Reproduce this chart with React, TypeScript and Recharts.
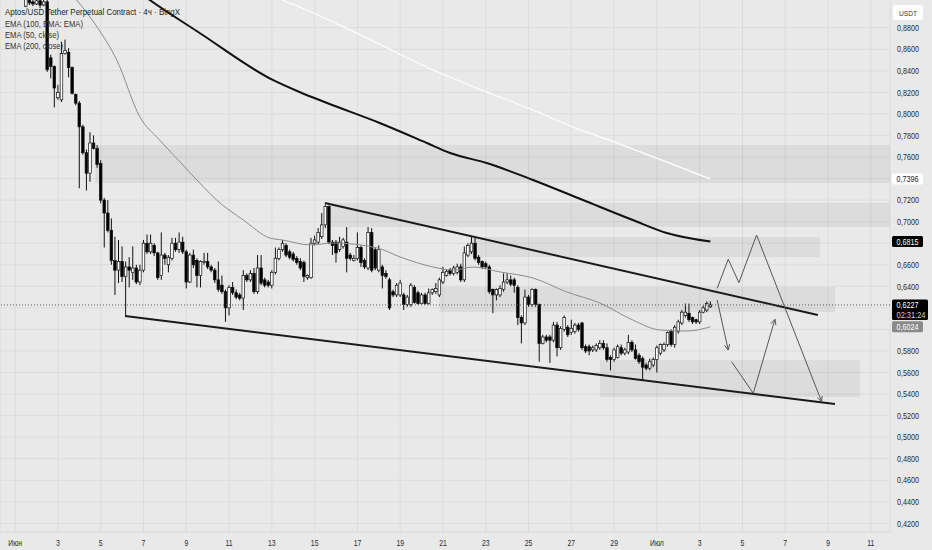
import React from "react";
import {
  Bar,
  CartesianGrid,
  ComposedChart,
  Line,
  ReferenceArea,
  ReferenceLine,
  XAxis,
  YAxis,
} from "recharts";

// 4h candles, hours counted from 1 June 00:00
const FIRST_HOUR = 12;
const CANDLE_HOURS = 4;

const opens = [
  0.900, 0.906, 0.904, 0.902, 0.905, 0.901, 0.904, 0.852, 0.844, 0.815,
  0.813, 0.856, 0.857, 0.843, 0.818, 0.810, 0.788, 0.764, 0.745, 0.773,
  0.768, 0.754, 0.720, 0.708, 0.692, 0.664, 0.655, 0.663, 0.649, 0.658,
  0.653, 0.657, 0.644, 0.655, 0.680, 0.672, 0.678, 0.671, 0.650, 0.669,
  0.660, 0.666, 0.680, 0.674, 0.681, 0.672, 0.644, 0.669, 0.664, 0.650,
  0.662, 0.663, 0.658, 0.655, 0.646, 0.641, 0.635, 0.620, 0.639, 0.634,
  0.632, 0.629, 0.650, 0.646, 0.652, 0.635, 0.657, 0.646, 0.644, 0.641,
  0.653, 0.666, 0.674, 0.678, 0.672, 0.670, 0.666, 0.663, 0.662, 0.648,
  0.648, 0.680, 0.681, 0.686, 0.697, 0.714, 0.681, 0.681, 0.674, 0.677,
  0.681, 0.669, 0.664, 0.666, 0.676, 0.664, 0.657, 0.690, 0.674, 0.655,
  0.658, 0.652, 0.646, 0.635, 0.632, 0.632, 0.632, 0.623, 0.623, 0.639,
  0.634, 0.624, 0.632, 0.624, 0.634, 0.635, 0.632, 0.644, 0.650, 0.655,
  0.652, 0.653, 0.658, 0.646, 0.669, 0.672, 0.680, 0.667, 0.663, 0.661,
  0.658, 0.637, 0.632, 0.632, 0.637, 0.644, 0.646, 0.646, 0.639, 0.611,
  0.606, 0.630, 0.623, 0.637, 0.623, 0.587, 0.593, 0.593, 0.590, 0.604,
  0.583, 0.600, 0.602, 0.597, 0.598, 0.604, 0.606, 0.584, 0.584, 0.581,
  0.581, 0.583, 0.587, 0.583, 0.574, 0.572, 0.574, 0.583, 0.578, 0.579,
  0.588, 0.581, 0.576, 0.573, 0.567, 0.564, 0.567, 0.572, 0.578, 0.581,
  0.586, 0.598, 0.586, 0.598, 0.606, 0.613, 0.615, 0.611, 0.609, 0.607,
  0.616, 0.618, 0.621,
];

const highs = [
  0.913, 0.910, 0.909, 0.909, 0.908, 0.908, 0.908, 0.855, 0.845, 0.827,
  0.867, 0.869, 0.861, 0.844, 0.819, 0.812, 0.790, 0.767, 0.783, 0.780,
  0.771, 0.757, 0.722, 0.720, 0.703, 0.686, 0.683, 0.677, 0.663, 0.667,
  0.677, 0.660, 0.660, 0.683, 0.688, 0.688, 0.680, 0.672, 0.690, 0.671,
  0.669, 0.685, 0.685, 0.690, 0.686, 0.674, 0.671, 0.674, 0.666, 0.664,
  0.671, 0.671, 0.660, 0.657, 0.663, 0.650, 0.637, 0.641, 0.644, 0.637,
  0.634, 0.655, 0.652, 0.655, 0.657, 0.669, 0.669, 0.648, 0.646, 0.655,
  0.676, 0.676, 0.683, 0.680, 0.674, 0.672, 0.668, 0.666, 0.664, 0.651,
  0.685, 0.687, 0.694, 0.708, 0.716, 0.715, 0.683, 0.683, 0.686, 0.685,
  0.695, 0.671, 0.669, 0.690, 0.678, 0.666, 0.695, 0.694, 0.676, 0.678,
  0.660, 0.655, 0.648, 0.637, 0.643, 0.646, 0.634, 0.632, 0.643, 0.641,
  0.636, 0.634, 0.634, 0.638, 0.638, 0.643, 0.648, 0.658, 0.656, 0.657,
  0.659, 0.661, 0.661, 0.677, 0.680, 0.686, 0.685, 0.669, 0.664, 0.663,
  0.660, 0.638, 0.638, 0.641, 0.652, 0.652, 0.650, 0.648, 0.641, 0.613,
  0.637, 0.632, 0.638, 0.638, 0.624, 0.595, 0.595, 0.595, 0.607, 0.607,
  0.603, 0.613, 0.604, 0.609, 0.606, 0.606, 0.607, 0.586, 0.586, 0.585,
  0.587, 0.590, 0.590, 0.587, 0.576, 0.583, 0.586, 0.586, 0.583, 0.595,
  0.590, 0.586, 0.578, 0.575, 0.569, 0.573, 0.574, 0.585, 0.587, 0.588,
  0.598, 0.600, 0.604, 0.609, 0.618, 0.624, 0.624, 0.612, 0.610, 0.618,
  0.622, 0.626, 0.626,
];

const lows = [
  0.899, 0.901, 0.900, 0.901, 0.898, 0.900, 0.839, 0.833, 0.806, 0.813,
  0.811, 0.855, 0.834, 0.818, 0.808, 0.731, 0.762, 0.729, 0.737, 0.767,
  0.750, 0.717, 0.676, 0.690, 0.660, 0.632, 0.643, 0.644, 0.612, 0.639,
  0.646, 0.642, 0.641, 0.653, 0.670, 0.670, 0.668, 0.646, 0.646, 0.660,
  0.653, 0.664, 0.672, 0.671, 0.670, 0.638, 0.643, 0.657, 0.639, 0.639,
  0.660, 0.656, 0.653, 0.643, 0.635, 0.633, 0.607, 0.613, 0.632, 0.628,
  0.627, 0.618, 0.644, 0.644, 0.633, 0.633, 0.641, 0.639, 0.639, 0.638,
  0.651, 0.664, 0.672, 0.667, 0.665, 0.663, 0.660, 0.655, 0.644, 0.646,
  0.647, 0.678, 0.679, 0.684, 0.694, 0.679, 0.669, 0.662, 0.672, 0.675,
  0.653, 0.664, 0.663, 0.664, 0.658, 0.656, 0.655, 0.653, 0.655, 0.653,
  0.638, 0.647, 0.618, 0.630, 0.630, 0.630, 0.618, 0.621, 0.621, 0.624,
  0.623, 0.623, 0.623, 0.623, 0.632, 0.633, 0.630, 0.642, 0.649, 0.650,
  0.650, 0.651, 0.644, 0.644, 0.667, 0.670, 0.664, 0.660, 0.656, 0.656,
  0.633, 0.615, 0.627, 0.630, 0.635, 0.642, 0.640, 0.634, 0.604, 0.587,
  0.604, 0.621, 0.621, 0.621, 0.570, 0.586, 0.588, 0.569, 0.588, 0.575,
  0.581, 0.598, 0.593, 0.595, 0.596, 0.598, 0.581, 0.578, 0.576, 0.579,
  0.579, 0.581, 0.581, 0.570, 0.562, 0.570, 0.573, 0.576, 0.576, 0.577,
  0.579, 0.572, 0.568, 0.553, 0.562, 0.562, 0.565, 0.560, 0.576, 0.579,
  0.584, 0.584, 0.583, 0.596, 0.604, 0.611, 0.607, 0.605, 0.605, 0.605,
  0.615, 0.616, 0.620,
];

const closes = [
  0.908, 0.903, 0.902, 0.905, 0.901, 0.904, 0.841, 0.844, 0.824, 0.820,
  0.856, 0.859, 0.843, 0.819, 0.810, 0.788, 0.764, 0.745, 0.773, 0.768,
  0.753, 0.720, 0.708, 0.692, 0.664, 0.655, 0.663, 0.649, 0.658, 0.655,
  0.657, 0.644, 0.655, 0.680, 0.672, 0.680, 0.671, 0.648, 0.669, 0.666,
  0.667, 0.680, 0.674, 0.681, 0.672, 0.644, 0.669, 0.660, 0.650, 0.663,
  0.663, 0.658, 0.655, 0.646, 0.637, 0.635, 0.620, 0.639, 0.634, 0.630,
  0.629, 0.650, 0.646, 0.652, 0.635, 0.657, 0.643, 0.641, 0.641, 0.653,
  0.666, 0.674, 0.680, 0.669, 0.667, 0.665, 0.662, 0.657, 0.649, 0.650,
  0.680, 0.683, 0.690, 0.697, 0.714, 0.681, 0.678, 0.671, 0.681, 0.683,
  0.666, 0.666, 0.666, 0.676, 0.662, 0.658, 0.690, 0.655, 0.657, 0.674,
  0.650, 0.649, 0.620, 0.632, 0.641, 0.643, 0.623, 0.630, 0.641, 0.625,
  0.624, 0.632, 0.624, 0.634, 0.637, 0.638, 0.646, 0.653, 0.654, 0.652,
  0.657, 0.658, 0.646, 0.671, 0.678, 0.680, 0.666, 0.662, 0.658, 0.658,
  0.635, 0.632, 0.637, 0.638, 0.644, 0.646, 0.642, 0.641, 0.611, 0.606,
  0.630, 0.623, 0.637, 0.623, 0.587, 0.593, 0.590, 0.590, 0.604, 0.583,
  0.601, 0.611, 0.595, 0.601, 0.604, 0.600, 0.583, 0.580, 0.580, 0.583,
  0.585, 0.587, 0.583, 0.572, 0.572, 0.581, 0.584, 0.578, 0.581, 0.588,
  0.581, 0.573, 0.570, 0.565, 0.564, 0.570, 0.572, 0.583, 0.586, 0.586,
  0.597, 0.586, 0.602, 0.607, 0.616, 0.616, 0.609, 0.607, 0.607, 0.616,
  0.620, 0.624, 0.6227,
];

// moving averages (first point sits just above the visible range)
const ema50Hours = [50, 69, 92, 114, 140, 162, 185, 207, 226, 256, 286, 300, 331, 357, 406, 432, 469, 491, 514, 544, 581, 619, 656, 693, 723, 754, 780];
const ema50Values = [0.924, 0.9057, 0.8806, 0.85, 0.7971, 0.7758, 0.7554, 0.7359, 0.7201, 0.7015, 0.6848, 0.683, 0.6784, 0.6802, 0.6756, 0.6672, 0.6579, 0.6551, 0.6579, 0.6533, 0.6477, 0.6347, 0.6245, 0.6087, 0.5995, 0.5985, 0.6024];
const ema100Hours = [129, 151, 207, 289, 319, 350, 409, 462, 488, 529, 581, 637, 693, 731, 780];
const ema100Values = [0.919, 0.9057, 0.8751, 0.8315, 0.8203, 0.8101, 0.7916, 0.773, 0.7637, 0.7544, 0.7387, 0.7201, 0.7015, 0.6895, 0.6815];
const ema200Hours = [275, 300, 319, 383, 469, 529, 581, 626, 675, 731, 780];
const ema200Values = [0.915, 0.9057, 0.8992, 0.8751, 0.8407, 0.8203, 0.8036, 0.7878, 0.773, 0.7554, 0.7396];

// drawn zones
const zoneFrom = [90, 350, 510, 476, 656];
const zoneTo = [981.5, 981.5, 903, 920, 948];
const zoneLow = [0.7359, 0.695, 0.6672, 0.6162, 0.5373];
const zoneHigh = [0.7711, 0.7173, 0.6858, 0.6394, 0.5716];

// channel lines
const upperHours = [347.5, 900.6];
const upperPrices = [0.7173, 0.6134];
const lowerHours = [123.3, 919.7];
const lowerPrices = [0.6125, 0.5308];

// projected paths
const pathAHours = [787.6, 800.0, 812.0, 831.8, 904.8];
const pathAPrices = [0.6381, 0.6651, 0.6434, 0.6876, 0.5329];
const pathBHours = [787.6, 800.0];
const pathBPrices = [0.6273, 0.5809];
const pathCHours = [803.8, 828.1, 852.4];
const pathCPrices = [0.57, 0.5407, 0.6094];

const xTickHours = [0, 48, 96, 144, 192, 240, 288, 336, 384, 432, 480, 528, 576, 624, 672, 720, 768, 816, 864, 912, 960];
const xTickLabels = ["Июн", "3", "5", "7", "9", "11", "13", "15", "17", "19", "21", "23", "25", "27", "29", "Июл", "3", "5", "7", "9", "11"];

const priceGrid = [0.42, 0.44, 0.46, 0.48, 0.5, 0.52, 0.54, 0.56, 0.58, 0.6, 0.62, 0.64, 0.66, 0.68, 0.7, 0.72, 0.74, 0.76, 0.78, 0.8, 0.82, 0.84, 0.86, 0.88];
const hiddenPriceLabels = [0.6, 0.62, 0.68, 0.74];

const markerValues = [0.7396, 0.6815, 0.6227, 0.6024];

const FONT = "'Liberation Sans', Arial, sans-serif";

const candles = closes.map((close, i) => ({
  hour: FIRST_HOUR + i * CANDLE_HOURS,
  open: opens[i],
  high: highs[i],
  low: lows[i],
  close,
  range: [lows[i], highs[i]],
}));

const toSeries = (hours: number[], values: number[]) =>
  hours.map((hour, i) => ({ hour, value: values[i] }));

const priceText = (v: number) => v.toFixed(4).replace(".", ",");

function Candle(props: any) {
  const { x, y, width, height } = props;
  const d = props.payload ?? props;
  const cx = x + width / 2;
  const span = d.high - d.low || 1e-9;
  const toY = (v: number) => y + ((d.high - v) / span) * height;
  const top = toY(Math.max(d.open, d.close));
  const bottom = toY(Math.min(d.open, d.close));
  const up = d.close >= d.open;
  return (
    <g>
      <line x1={cx} x2={cx} y1={y} y2={y + height} stroke="#111" strokeWidth={1} />
      <rect
        x={cx - 1.3}
        y={top}
        width={2.6}
        height={Math.max(bottom - top, 0.8)}
        fill={up ? "#ffffff" : "#000000"}
        stroke="#111"
        strokeWidth={0.7}
      />
    </g>
  );
}

function PriceTick(props: any) {
  const { x, y, payload } = props;
  return (
    <text x={x} y={y + 3.2} fontSize={9} fill="#2a2a2a" fontFamily={FONT} textLength={22} lengthAdjust="spacingAndGlyphs">
      {priceText(payload.value)}
    </text>
  );
}

function TimeTick(props: any) {
  const { x, y, payload } = props;
  const label = xTickLabels[xTickHours.indexOf(payload.value)] ?? "";
  return (
    <g transform={`translate(${x},${y + 6}) scale(0.72,1)`}>
      <text textAnchor="middle" fontSize={9.5} fill="#2a2a2a" fontFamily={FONT}>
        {label}
      </text>
    </g>
  );
}

function Badge(props: any) {
  const { viewBox, value, fill, color, sub } = props;
  const left = viewBox.x + viewBox.width + 2;
  const cy = viewBox.y;
  return (
    <g>
      <rect x={left} y={cy - 5.5} width={sub ? 36 : 31} height={sub ? 20.5 : 11} rx={1.5} fill={fill} />
      <text x={left + 4.5} y={cy + 3.3} fontSize={9} fill={color} fontFamily={FONT} textLength={22} lengthAdjust="spacingAndGlyphs">
        {priceText(value)}
      </text>
      {sub ? (
        <text x={left + 4.5} y={cy + 13.2} fontSize={9} fill="#d0d0d0" fontFamily={FONT} textLength={29} lengthAdjust="spacingAndGlyphs">
          {sub}
        </text>
      ) : null}
    </g>
  );
}

function Arrow(props: any) {
  const { x1, y1, x2, y2 } = props;
  const a = Math.atan2(y2 - y1, x2 - x1);
  const len = 6;
  const spread = 0.45;
  const ax = x2 - len * Math.cos(a - spread);
  const ay = y2 - len * Math.sin(a - spread);
  const bx = x2 - len * Math.cos(a + spread);
  const by = y2 - len * Math.sin(a + spread);
  return (
    <g>
      <line x1={x1} y1={y1} x2={x2} y2={y2} stroke="#555" strokeWidth={1} />
      <polyline points={`${ax},${ay} ${x2},${y2} ${bx},${by}`} fill="none" stroke="#555" strokeWidth={1} />
    </g>
  );
}

function pathLines(key: string, hours: number[], prices: number[]) {
  return hours.slice(1).map((h, i) => {
    const last = i === hours.length - 2;
    return (
      <ReferenceLine
        key={`${key}-${i}`}
        segment={[
          { x: hours[i], y: prices[i] },
          { x: h, y: prices[i + 1] },
        ]}
        stroke="#555"
        strokeWidth={1}
        shape={last ? (p: any) => <Arrow {...p} /> : undefined}
      />
    );
  });
}

function Legend() {
  const lines = [
    { t: "EMA (100, EMA: EMA)", y: 26.7, w: 78 },
    { t: "EMA (50, close)", y: 38, w: 54 },
    { t: "EMA (200, close)", y: 49.3, w: 58 },
  ];
  return (
    <svg width={932} height={550} style={{ position: "absolute", left: 0, top: 0, pointerEvents: "none" }}>
      <text x={5} y={14.5} fontSize={9.5} fill="#1e1e1e" fontFamily={FONT} textLength={175} lengthAdjust="spacingAndGlyphs">
        Aptos/USD Tether Perpetual Contract · 4ч · BingX
      </text>
      {lines.map((l) => (
        <text key={l.t} x={5} y={l.y} fontSize={9.5} fill="#333" fontFamily={FONT} textLength={l.w} lengthAdjust="spacingAndGlyphs">
          {l.t}
        </text>
      ))}
      <rect x={893} y={5} width={30} height={15} rx={2} fill="#ffffff" />
      <text x={899} y={15.5} fontSize={8} fill="#333" fontFamily={FONT} textLength={18} lengthAdjust="spacingAndGlyphs">
        USDT
      </text>
    </svg>
  );
}

export default function App() {
  const markerStyles = [
    { fill: "#ffffff", color: "#222" },
    { fill: "#000000", color: "#ffffff" },
    { fill: "#000000", color: "#ffffff", sub: "02:31:24" },
    { fill: "#8a8a8a", color: "#ffffff" },
  ];
  return (
    <div style={{ position: "absolute", left: 0, top: 0, width: 932, height: 550, background: "#e9e9e9", overflow: "hidden" }}>
      <ComposedChart width={932} height={550} data={candles} margin={{ top: 0, right: 0, bottom: 0, left: 0 }}>
        <CartesianGrid stroke="#dcdcdc" horizontalValues={priceGrid} />
        <XAxis
          dataKey="hour"
          type="number"
          domain={[-17, 981.5]}
          allowDataOverflow
          ticks={xTickHours}
          tick={<TimeTick />}
          tickLine={false}
          axisLine={{ stroke: "#d6d6d6" }}
          height={18}
          interval={0}
        />
        <YAxis
          orientation="right"
          type="number"
          domain={[0.412, 0.9057]}
          allowDataOverflow
          ticks={priceGrid.filter((v) => !hiddenPriceLabels.includes(v))}
          tick={<PriceTick />}
          tickLine={false}
          axisLine={false}
          tickMargin={1}
          width={42}
          interval={0}
        />
        {zoneFrom.map((x1, i) => (
          <ReferenceArea
            key={`zone-${i}`}
            x1={x1}
            x2={zoneTo[i]}
            y1={zoneLow[i]}
            y2={zoneHigh[i]}
            fill="#000"
            fillOpacity={0.055}
            stroke="none"
          />
        ))}
        <Line data={toSeries(ema200Hours, ema200Values)} dataKey="value" type="monotone" stroke="#fafafa" strokeWidth={1.5} dot={false} activeDot={false} isAnimationActive={false} />
        <Line data={toSeries(ema100Hours, ema100Values)} dataKey="value" type="monotone" stroke="#111" strokeWidth={2} dot={false} activeDot={false} isAnimationActive={false} />
        <Line data={toSeries(ema50Hours, ema50Values)} dataKey="value" type="monotone" stroke="#8c8c8c" strokeWidth={1} dot={false} activeDot={false} isAnimationActive={false} />
        <Bar dataKey="range" barSize={3} shape={<Candle />} isAnimationActive={false} />
        <ReferenceLine
          segment={[
            { x: upperHours[0], y: upperPrices[0] },
            { x: upperHours[1], y: upperPrices[1] },
          ]}
          stroke="#1a1a1a"
          strokeWidth={2}
        />
        <ReferenceLine
          segment={[
            { x: lowerHours[0], y: lowerPrices[0] },
            { x: lowerHours[1], y: lowerPrices[1] },
          ]}
          stroke="#1a1a1a"
          strokeWidth={2}
        />
        {pathLines("a", pathAHours, pathAPrices)}
        {pathLines("b", pathBHours, pathBPrices)}
        {pathLines("c", pathCHours, pathCPrices)}
        {markerValues.map((v, i) => (
          <ReferenceLine
            key={`marker-${i}`}
            y={v}
            stroke={i === 2 ? "#555" : "none"}
            strokeDasharray="1 2"
            label={<Badge value={v} {...markerStyles[i]} />}
          />
        ))}
      </ComposedChart>
      <Legend />
    </div>
  );
}
